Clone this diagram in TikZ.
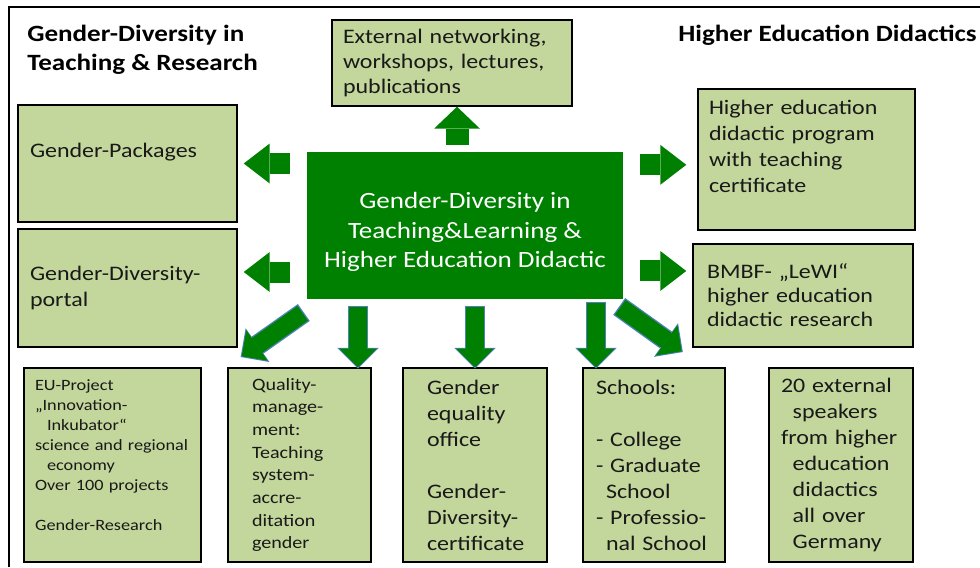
\documentclass[tikz,border=0pt]{standalone}
\usepackage{fontspec}
\setmainfont{Carlito}[FakeStretch=1.16]
\usepackage{tikz}
\usepackage{xcolor}
\usetikzlibrary{arrows.meta}
\definecolor{boxgreen}{RGB}{195,214,155}
\definecolor{hubgreen}{RGB}{0,128,0}
\definecolor{arrowedge}{RGB}{79,129,189}
\hyphenpenalty=10000
\exhyphenpenalty=10000

\begin{document}
\begin{tikzpicture}[x=0.75pt, y=0.75pt]
    \tikzstyle{box} = [rectangle, draw, fill=boxgreen, line width=1.1pt, text=black!90, align=left, inner ysep=0pt, font=\fontsize{15.5}{19.5}\selectfont]
    \tikzstyle{bottombox} = [box, minimum height=145.5pt]
    \tikzstyle{hub} = [rectangle, fill=hubgreen, text=white, align=center, minimum width=237pt, minimum height=110.25pt, font=\fontsize{17.5}{22}\selectfont]
    \tikzstyle{heading} = [font=\bfseries\fontsize{17.5}{21.75}\selectfont, align=left, inner sep=0pt, anchor=north west]
    \tikzstyle{sidearrow} = [hubgreen, line width=15.75pt, -{Triangle[length=19.5pt, width=30pt, line width=0pt]}]
    \tikzstyle{uparrow} = [hubgreen, line width=17.25pt, -{Triangle[length=16.5pt, width=34.5pt, line width=0pt]}]
    \tikzstyle{downarrow} = [hubgreen, line width=13.5pt, -{Triangle[length=14pt, width=28pt, line width=0pt]}, preaction={draw=arrowedge, line width=15.5pt, -{Triangle[length=15.5pt, width=31pt, line width=0pt]}, shorten >=-1pt, shorten <=-1pt}]

    \useasboundingbox (0,0) rectangle (980,-567);
    \draw[line width=1.1pt] (9,-567) -- (9,-7) -- (980,-7);

    \node[heading] (lefttitle) at (27,-24.5) {Gender-Diversity in\\Teaching \& Research};
    \node[heading] (righttitle) at (678,-24.5) {Higher Education Didactics};

    \node[hub] (hub) at (465,-225.5) {\rule{0pt}{22pt}Gender-Diversity in\\Teaching\&Learning \&\\Higher Education Didactic};

    \node[box, text width=163.5pt, inner xsep=8.25pt, minimum height=64.5pt, font=\fontsize{15.5}{18.75}\selectfont] (ext) at (452,-63) {External networking,\\workshops, lectures,\\publications};
    \node[box, text width=146.25pt, inner xsep=9pt, minimum height=87.75pt] (packages) at (127.5,-163.5) {Gender-Packages\\~};
    \node[box, text width=146.25pt, inner xsep=9pt, minimum height=88.5pt] (portal) at (127.5,-288) {Gender-Diversity-\\portal};
    \node[box, text width=146.25pt, inner xsep=8.25pt, minimum height=105.75pt] (higher) at (806.5,-159.5) {Higher education\\didactic program\\with teaching\\certificate\\~};
    \node[box, text width=144pt, inner xsep=10.5pt, minimum height=77.25pt, font=\fontsize{15.5}{18}\selectfont] (bmbf) at (803,-295.5) {BMBF- „LeWI“\\higher education\\didactic research};

    \node[bottombox, text width=116.25pt, inner xsep=8.25pt, font=\fontsize{11.8}{15}\selectfont] (eu) at (112.5,-465) {EU-Project\\„Innovation-\\\hspace*{9pt}Inkubator“\\science and regional\\\hspace*{9pt}economy\\Over 100 projects\\[15pt]Gender-Research\\~};
    \node[bottombox, text width=71.25pt, inner xsep=18pt, font=\fontsize{13}{17}\selectfont] (qual) at (299.5,-465) {Quality-\\manage-\\ment:\\Teaching\\system-\\accre-\\ditation\\gender};
    \node[bottombox, text width=72pt, inner xsep=18pt] (geo) at (475,-465) {Gender\\equality\\office\\[19.5pt]Gender-\\Diversity-\\certificate};
    \node[bottombox, text width=87pt, inner xsep=9.75pt] (schools) at (654,-465) {Schools:\\[19.5pt]- College\\- Graduate\\\hspace*{7.5pt}School\\- Professio-\\\hspace*{7.5pt}nal School};
    \node[bottombox, text width=90pt, inner xsep=9pt] (speakers) at (841,-465) {20 external\\\hspace*{8.75pt}speakers\\from higher\\\hspace*{8.75pt}education\\\hspace*{8.75pt}didactics\\\hspace*{8.75pt}all over\\\hspace*{8.75pt}Germany};

    \draw[uparrow] ([xshift=-6pt, yshift=5.25pt]hub.north) -- ([xshift=-6pt]hub.north |- ext.south);
    \draw[sidearrow] ([xshift=-12.75pt]hub.west |- packages.east) -- ([xshift=4.5pt]packages.east);
    \draw[sidearrow] ([xshift=-12.75pt, yshift=12pt]hub.west |- portal.east) -- ([xshift=4.5pt, yshift=12pt]portal.east);
    \draw[sidearrow] ([xshift=12.75pt, yshift=-4pt]hub.east |- higher.west) -- ([xshift=-8.25pt, yshift=-4pt]higher.west);
    \draw[sidearrow] ([xshift=12.75pt, yshift=18.4pt]hub.east |- bmbf.west) -- ([xshift=-4.5pt, yshift=18.4pt]bmbf.west);

    \draw[downarrow] ([xshift=-3pt, yshift=-10.5pt]hub.south west) -- ([xshift=30pt, yshift=8.25pt]eu.north east);
    \draw[downarrow] ([xshift=-80.25pt, yshift=-6pt]hub.south) -- ([xshift=-80.25pt]hub.south |- qual.north);
    \draw[downarrow] ([yshift=-6pt]hub.south -| geo.north) -- (geo.north);
    \draw[downarrow] ([xshift=98.25pt, yshift=-3pt]hub.south) -- ([xshift=98.25pt]hub.south |- schools.north);
    \draw[downarrow] ([xshift=-2.25pt, yshift=-6pt]hub.south east) -- ([xshift=-33pt, yshift=12pt]schools.north east);
\end{tikzpicture}
\end{document}
